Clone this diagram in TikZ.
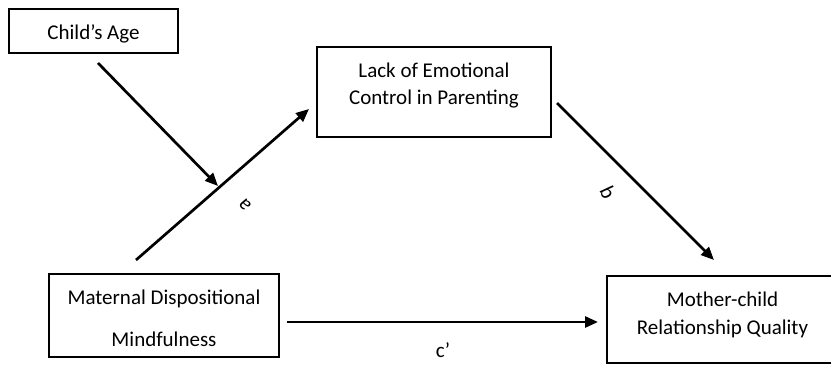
\documentclass[tikz,border=0pt]{standalone}
\usepackage{fontspec}
\setmainfont{Carlito}
\usetikzlibrary{arrows.meta}
\begin{document}
\begin{tikzpicture}[x=1pt,y=-1pt,
  boxnode/.style={draw=black, line width=1.7pt, rectangle, inner sep=0pt},
  txt/.style={font=\fontsize{21}{26}\selectfont, inner sep=0pt, anchor=base},
  conn/.style={line width=2.7pt, -{Triangle[length=13pt,width=11pt]}},
  lbl/.style={font=\fontsize{21}{26}\selectfont, inner sep=0pt}]
\useasboundingbox (0,0) rectangle (831,365);
% boxes
\node[boxnode, minimum width=169pt, minimum height=44pt] (age) at (93.5,31) {};
\node[boxnode, minimum width=234pt, minimum height=90pt] (lack) at (434,92) {};
\node[boxnode, minimum width=230pt, minimum height=83pt] (mat) at (164,315.5) {};
\node[boxnode, minimum width=234pt, minimum height=87pt, anchor=west] (rel) at (606,319.5) {};
% texts
\node[txt] (ageT) at (93.5,39) {Child’s Age};
\node[txt] (lackT1) at (434,77) {Lack of Emotional};
\node[txt] (lackT2) at (434,104) {Control in Parenting};
\node[txt] (matT1) at (164,304) {Maternal Dispositional};
\node[txt] (matT2) at (164,346) {Mindfulness};
\node[txt] (relT1) at (722.5,306) {Mother-child};
\node[txt] (relT2) at (722.5,334) {Relationship Quality};
% connector ends
\coordinate (aS) at (136,260);
\coordinate (aE) at (309,109);
\coordinate (mS) at (98,63);
\coordinate (mE) at (218,186);
\coordinate (bS) at (557,103);
\coordinate (bE) at (714,260);
\coordinate (cS) at (287,322);
\coordinate (cE) at (598,322);
\draw[conn] (aS) -- (aE);
\draw[conn] (mS) -- (mE);
\draw[conn] (bS) -- (bE);
\draw[conn] (cS) -- (cE);
\node[lbl, rotate=130] (la) at (245,205) {a};
\node[lbl, rotate=-65] (lb) at (608,192) {b};
\node[lbl] (lc) at (443,350) {c’};
\end{tikzpicture}
\end{document}
